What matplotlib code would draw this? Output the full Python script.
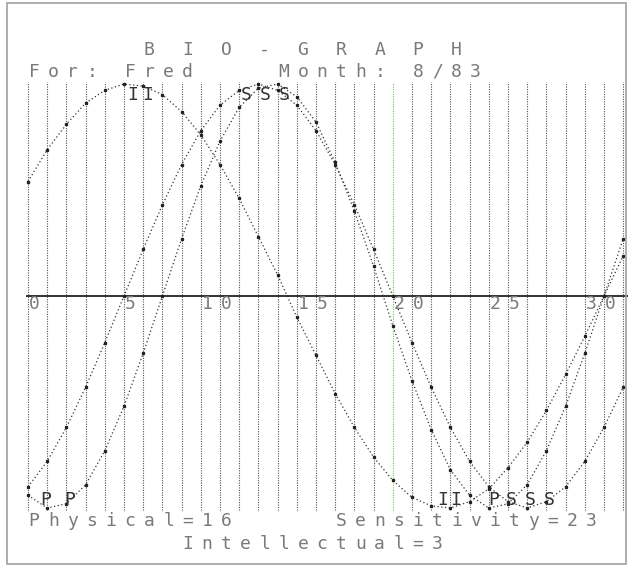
import matplotlib
matplotlib.use('Agg')
import matplotlib.pyplot as plt
from matplotlib.patches import Rectangle

days = list(range(32))
physical = [-0.94, -1.00, -0.98, -0.89, -0.73, -0.52, -0.27, 0.00, 0.27, 0.52, 0.73,
            0.89, 0.98, 1.00, 0.94, 0.82, 0.63, 0.40, 0.14, -0.14, -0.40, -0.63,
            -0.82, -0.94, -1.00, -0.98, -0.89, -0.73, -0.52, -0.27, 0.00, 0.27]
sensitivity = [-0.90, -0.78, -0.62, -0.43, -0.22, 0.00, 0.22, 0.43, 0.62, 0.78, 0.90,
               0.97, 1.00, 0.97, 0.90, 0.78, 0.62, 0.43, 0.22, 0.00, -0.22, -0.43,
               -0.62, -0.78, -0.90, -0.97, -1.00, -0.97, -0.90, -0.78, -0.62, -0.43]
intellectual = [0.54, 0.69, 0.81, 0.91, 0.97, 1.00, 0.99, 0.95, 0.87, 0.76, 0.62,
                0.46, 0.28, 0.10, -0.10, -0.28, -0.46, -0.62, -0.76, -0.87, -0.95,
                -0.99, -1.00, -0.97, -0.91, -0.81, -0.69, -0.54, -0.37, -0.19, 0.00, 0.19]
tick_days = [0, 5, 10, 15, 20, 25, 30]
today = 19

title = 'B I O - G R A P H'
header = 'For: Fred    Month: 8/83'
foot1 = 'Physical=16'
foot2 = 'Sensitivity=23'
foot3 = 'Intellectual=3'

# pixel layout of the print: 19.2 px per day column, axis at y=296, 212 px per unit
x0, dx, y0, dy = 28, 19.2, 296, 212

fig = plt.figure(figsize=(6.28, 5.67), dpi=100)
ax = fig.add_axes([0, 0, 1, 1])
ax.set_xlim(-x0 / dx, (628 - x0) / dx)
ax.set_ylim((y0 - 567) / dy, y0 / dy)
ax.axis('off')


def yrow(ypix):
    return (y0 - ypix) / dy


def xcol(xpix):
    return (xpix - x0) / dx


def put(text, col, ypix, color='#7a7a7a'):
    for i, ch in enumerate(text):
        if ch == ' ':
            continue
        ax.text(col + i + 0.32, yrow(ypix), ch, family='DejaVu Sans Mono', fontsize=13,
                color=color, ha='center', va='center')


fig.patches.append(Rectangle((7, 3), 619, 561, transform=None, fill=False,
                             edgecolor='#a0a0a0', lw=1.2))

for d in days:
    c = '#6cc05a' if d == today else '#555555'
    ax.vlines(d, -1.01, 1.01, colors=c, linestyles=(0, (1, 1.2)), lw=0.8)

ax.hlines(0, xcol(26), xcol(628), colors='#222222', lw=1.3)

for vals in [physical, sensitivity, intellectual]:
    ax.plot(days, vals, color='#333333', lw=0.9, linestyle=(0, (1, 2)))
    ax.plot(days, vals, 's', color='#222222', ms=1.4)

put(title, 6, 50)
put(header, 0, 72)

for d in tick_days:
    s = str(d)
    put(s, d - len(s) + 1, 304)

put('I', xcol(127) - 0.32 + 0.3, 95, '#333333')
put('I', xcol(142) - 0.32 + 0.3, 95, '#333333')
put('SSS', xcol(240), 95, '#333333')

put('P', xcol(40), 500, '#333333')
put('P', xcol(64), 500, '#333333')
put('I', xcol(437), 500, '#333333')
put('I', xcol(450), 500, '#333333')
put('P', xcol(488), 500, '#333333')
put('SSS', xcol(505), 500, '#333333')

put(foot1, 0, 521)
put(foot2, 16, 521)
put(foot3, 8, 544)

fig.savefig('out.png', dpi=100, facecolor='white')
